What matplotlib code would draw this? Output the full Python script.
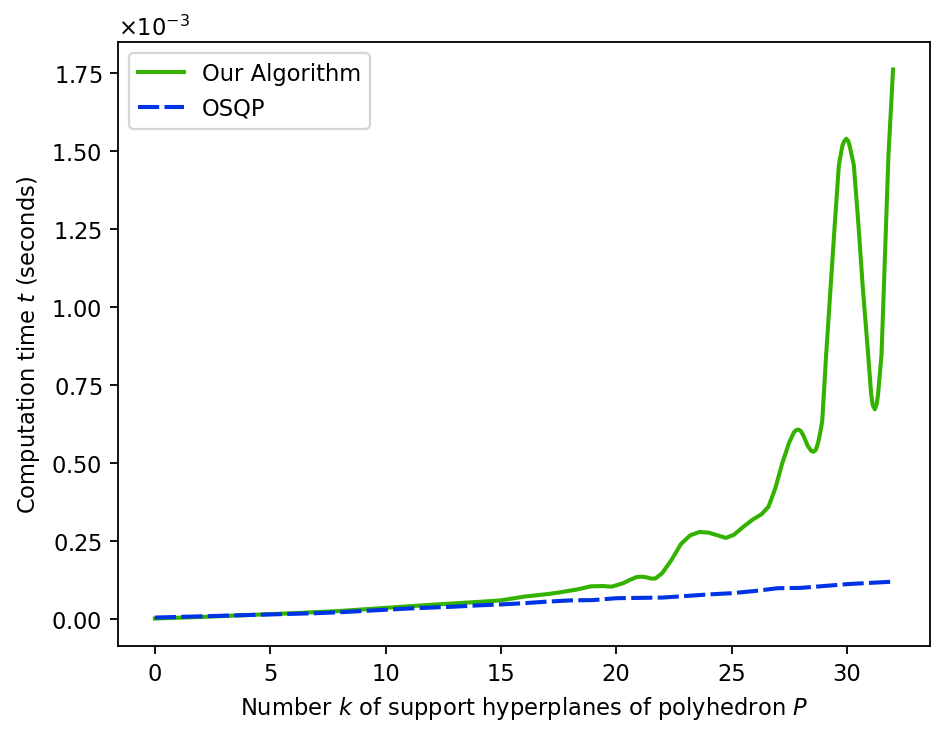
import matplotlib
matplotlib.use('Agg')
import matplotlib.pyplot as plt
from matplotlib.ticker import ScalarFormatter

# values, t in units of 1e-3 s
kOurs = [0, 2, 4, 6, 8, 10, 12, 14, 15, 16, 17, 17.5, 18.3, 18.9, 19.4, 19.8, 20.3, 20.6, 20.9,
	21.1, 21.3, 21.5, 21.7, 22.0, 22.4, 22.8, 23.2, 23.6, 24.0, 24.4, 24.75, 25.1, 25.5, 25.9,
	26.3, 26.6, 26.9, 27.2, 27.5, 27.7, 27.8, 27.9, 28.0, 28.1, 28.3, 28.45, 28.55, 28.65, 28.75,
	28.85, 28.93, 29.1, 29.29, 29.48, 29.65, 29.8, 29.88, 29.97, 30.05, 30.12, 30.3, 30.49, 30.69,
	30.92, 31.05, 31.12, 31.21, 31.29, 31.35, 31.5, 31.65, 31.8, 32.0]
tOurs = [0.002, 0.007, 0.013, 0.019, 0.026, 0.036, 0.046, 0.055, 0.060, 0.072, 0.080, 0.085,
	0.095, 0.105, 0.106, 0.104, 0.115, 0.126, 0.135, 0.136, 0.134, 0.130, 0.130, 0.148, 0.190,
	0.240, 0.268, 0.279, 0.277, 0.268, 0.260, 0.270, 0.295, 0.318, 0.336, 0.360, 0.420, 0.500,
	0.566, 0.598, 0.605, 0.607, 0.602, 0.590, 0.555, 0.539, 0.536, 0.542, 0.565, 0.600, 0.635,
	0.847, 1.060, 1.272, 1.453, 1.515, 1.530, 1.538, 1.532, 1.515, 1.453, 1.272, 1.060, 0.847,
	0.720, 0.685, 0.672, 0.688, 0.720, 0.847, 1.166, 1.485, 1.760]

kOSQP = list(range(33))
tOSQP = [0.005, 0.007, 0.009, 0.011, 0.013, 0.015, 0.017, 0.019, 0.022, 0.026, 0.030, 0.034,
	0.037, 0.040, 0.044, 0.047, 0.051, 0.056, 0.060, 0.061, 0.067, 0.068, 0.069, 0.074, 0.079,
	0.083, 0.090, 0.099, 0.100, 0.106, 0.112, 0.116, 0.120]

fig = plt.figure(figsize=(5.804, 4.515), dpi=163)
ax = fig.add_axes([0.1247, 0.121, 0.983 - 0.1247, 0.9416 - 0.121])

ax.plot(kOurs, [t*1e-3 for t in tOurs], color='#33b300', lw=1.8, label='Our Algorithm')
ax.plot(kOSQP, [t*1e-3 for t in tOSQP], color='#0033e6', lw=1.8, dashes=(5.2, 1.3), label='OSQP')

fmt = ScalarFormatter(useMathText=True)
fmt.set_powerlimits((-2, 2))
ax.yaxis.set_major_formatter(fmt)
ax.set_yticks([i*0.25e-3 for i in range(8)])

ax.set_xlabel('Number $k$ of support hyperplanes of polyhedron $P$')
ax.set_ylabel('Computation time $t$ (seconds)')
ax.legend(loc='upper left')

fig.savefig('out.png', dpi=163)
